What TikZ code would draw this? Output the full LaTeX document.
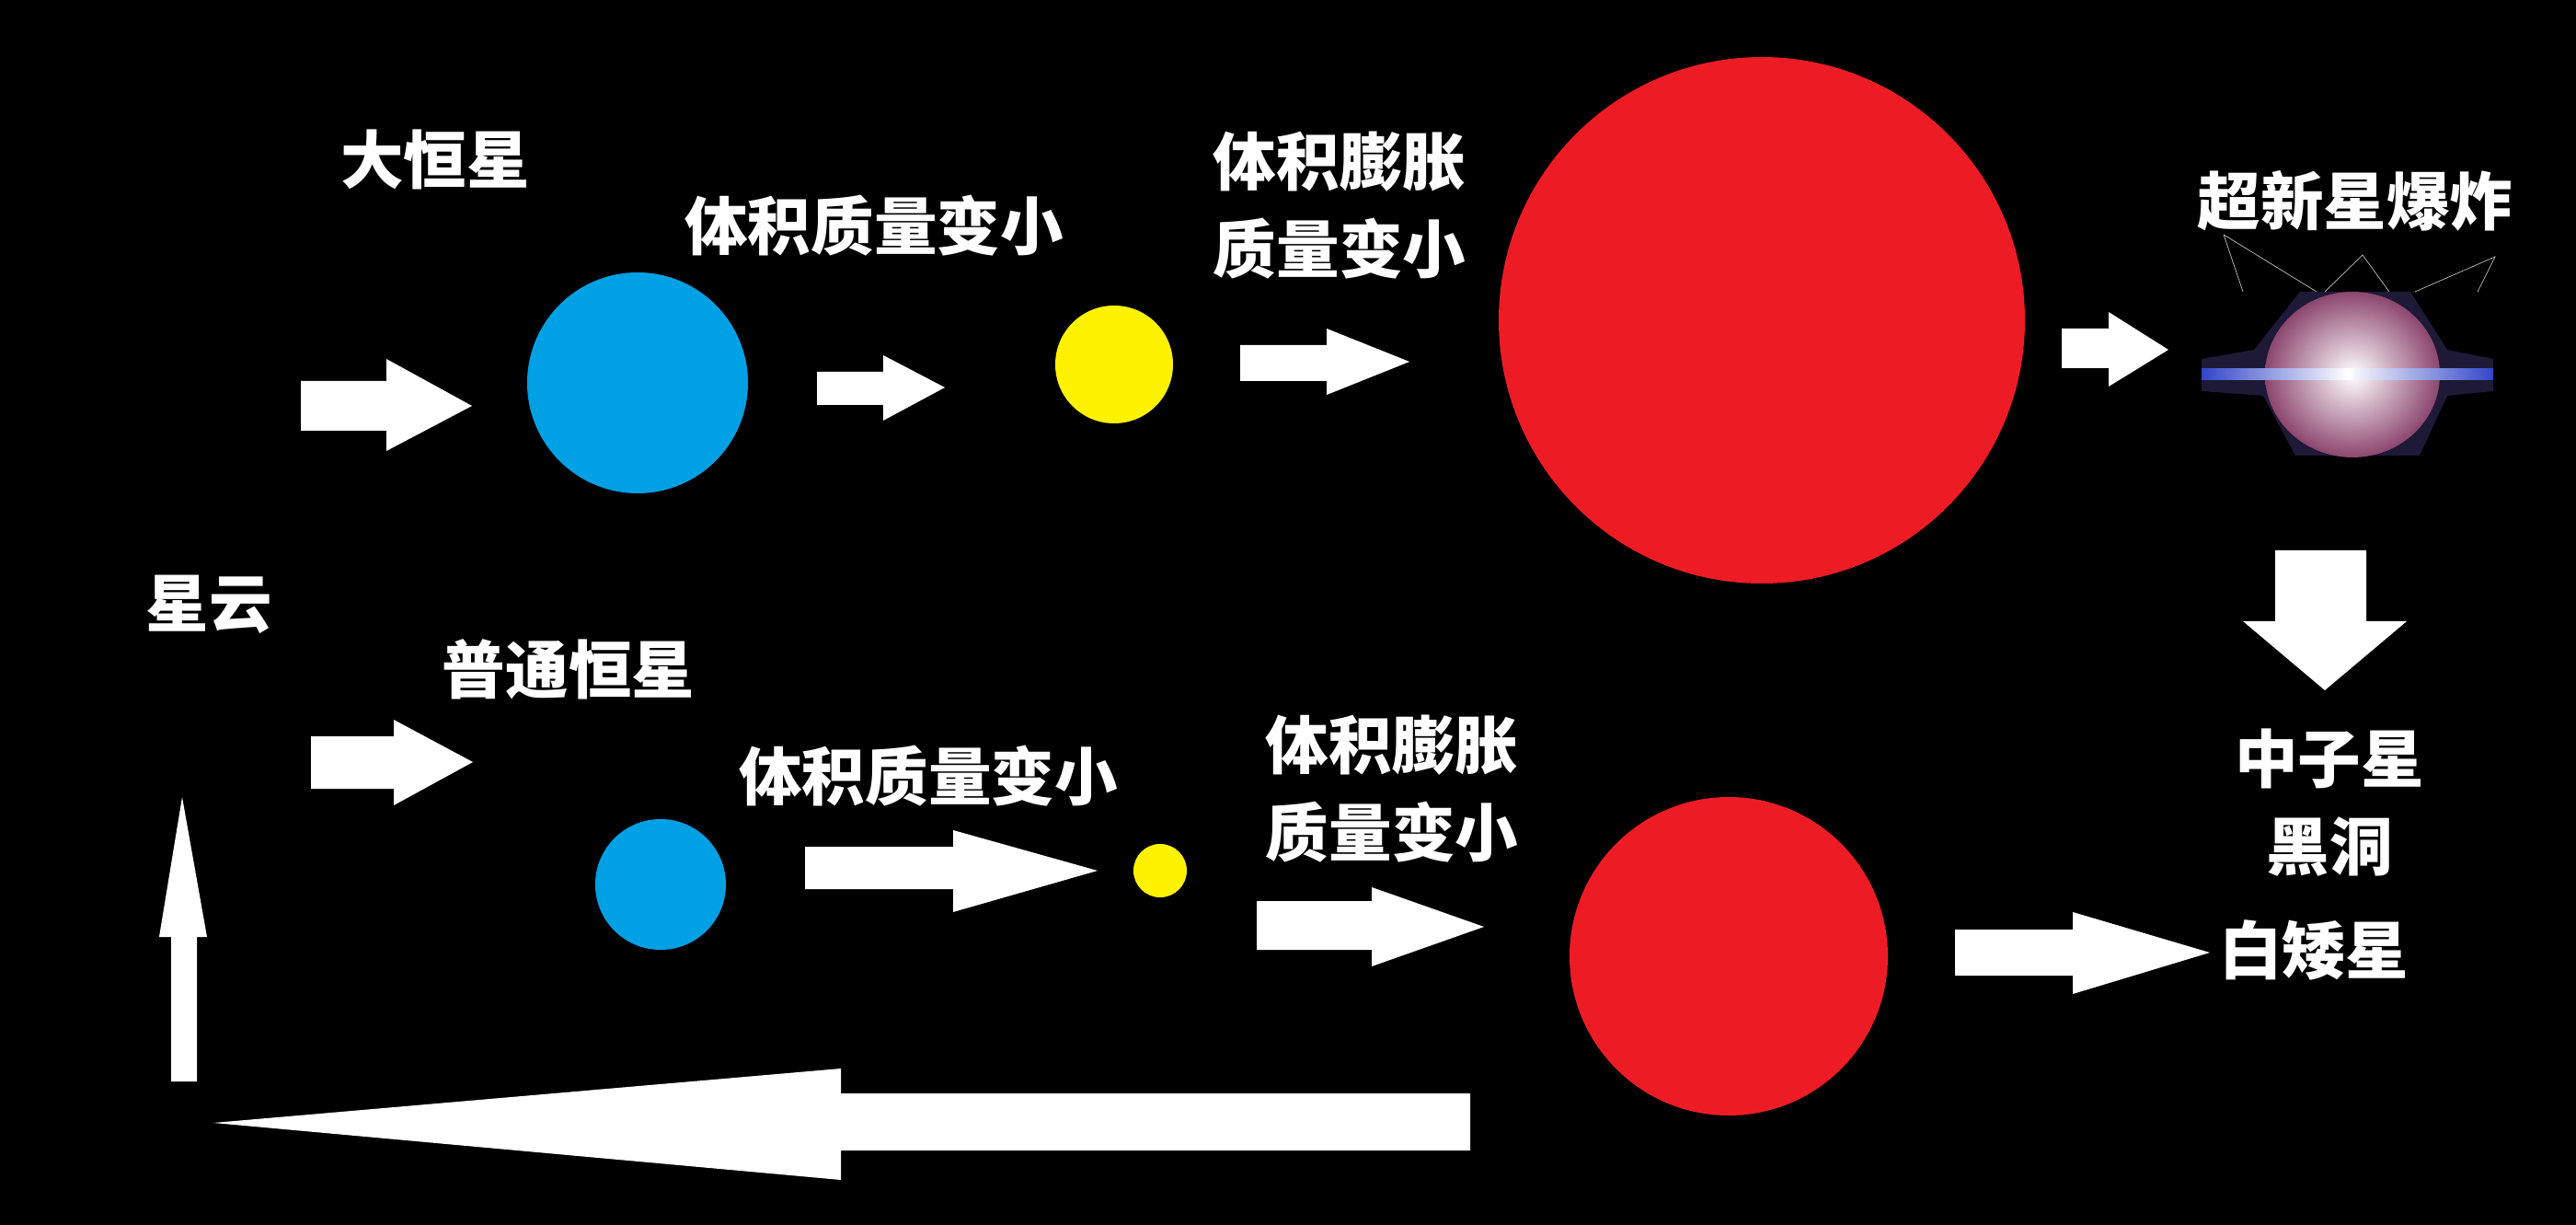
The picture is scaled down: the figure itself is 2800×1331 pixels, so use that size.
\documentclass[tikz,border=0pt]{standalone}
\usepackage{fontspec}
\setmainfont{Noto Sans CJK SC}
\definecolor{snbg}{RGB}{30,25,55}
\begin{document}
\begin{tikzpicture}[x=0.01cm,y=-0.01cm,
  lbl/.style={text=white,font=\fontsize{19.5}{27}\selectfont\bfseries,align=center,inner sep=0},
  blue/.style={fill={rgb,255:red,0;green,160;blue,228}},
  yel/.style={fill={rgb,255:red,255;green,242;blue,0}},
  red/.style={fill={rgb,255:red,237;green,28;blue,36}}]
\fill[black] (0,0) rectangle (2800,1331);
\useasboundingbox (0,0) rectangle (2800,1331);
% top row
\node[lbl] (t1) at (473,173) {大恒星};
\fill[white] (327,414) -- (420,414) -- (420,390) -- (513,441) -- (420,490) -- (420,468) -- (327,468) -- cycle;
\fill[blue] (693,416) circle (120);
\node[lbl] (t2) at (950,245) {体积质量变小};
\fill[white] (888,404) -- (960,404) -- (960,386) -- (1027,421) -- (960,457) -- (960,440) -- (888,440) -- cycle;
\fill[yel] (1211,396) circle (64);
\node[lbl] (t3) at (1456,223) {体积膨胀\\质量变小};
\fill[white] (1348,375) -- (1442,375) -- (1442,357) -- (1532,393) -- (1442,429) -- (1442,414) -- (1348,414) -- cycle;
\fill[red] (1915,348) circle (286);
\fill[white] (2241,357) -- (2292,357) -- (2292,339) -- (2357,380) -- (2292,420) -- (2292,400) -- (2241,400) -- cycle;
% supernova
\node[lbl] (sn) at (2560,218) {超新星爆炸};
\draw[gray!50,very thin] (2417,255) -- (2438,317) (2417,255) -- (2518,317) (2527,317) -- (2568,277) -- (2597,317) (2625,317) -- (2712,279) -- (2693,317);
\fill[snbg] (2500,317) -- (2620,317) -- (2660,380) -- (2710,390) -- (2710,425) -- (2660,430) -- (2630,495) -- (2495,495) -- (2460,430) -- (2393,425) -- (2393,390) -- (2450,380) -- cycle;
\shade[inner color=white,outer color={rgb,255:red,140;green,70;blue,110}] (2557,407) ellipse (95 and 90);
\shade[left color={rgb,255:red,50;green,70;blue,200},right color={rgb,255:red,50;green,70;blue,200},middle color=white] (2393,401) rectangle (2710,413);
\fill[white] (2473,598) -- (2572,598) -- (2572,675) -- (2616,675) -- (2527,750) -- (2438,675) -- (2473,675) -- cycle;
\node[lbl] (ns) at (2532,872) {中子星\\黑洞};
\node[lbl] (wd) at (2515,1032) {白矮星};
\fill[white] (2125,1010) -- (2253,1010) -- (2253,991) -- (2402,1035) -- (2253,1080) -- (2253,1060) -- (2125,1060) -- cycle;
% bottom row
\node[lbl] (neb) at (227,657) {星云};
\fill[white] (186,1175) -- (186,1018) -- (173,1018) -- (198,866) -- (225,1018) -- (214,1018) -- (214,1175) -- cycle;
\node[lbl] (t4) at (618,727) {普通恒星};
\fill[white] (338,800) -- (428,800) -- (428,782) -- (514,828) -- (428,875) -- (428,857) -- (338,857) -- cycle;
\fill[blue] (718,961) circle (71);
\node[lbl] (t5) at (1009,843) {体积质量变小};
\fill[white] (875,920) -- (1036,920) -- (1036,902) -- (1193,946) -- (1036,991) -- (1036,966) -- (875,966) -- cycle;
\fill[yel] (1261,946) circle (29);
\node[lbl] (t6) at (1513,857) {体积膨胀\\质量变小};
\fill[white] (1366,979) -- (1491,979) -- (1491,964) -- (1613,1007) -- (1491,1050) -- (1491,1032) -- (1366,1032) -- cycle;
\fill[red] (1879,1039) circle (173);
\fill[white] (1598,1188) -- (914,1188) -- (914,1161) -- (232,1220) -- (914,1282) -- (914,1250) -- (1598,1250) -- cycle;
\end{tikzpicture}
\end{document}
